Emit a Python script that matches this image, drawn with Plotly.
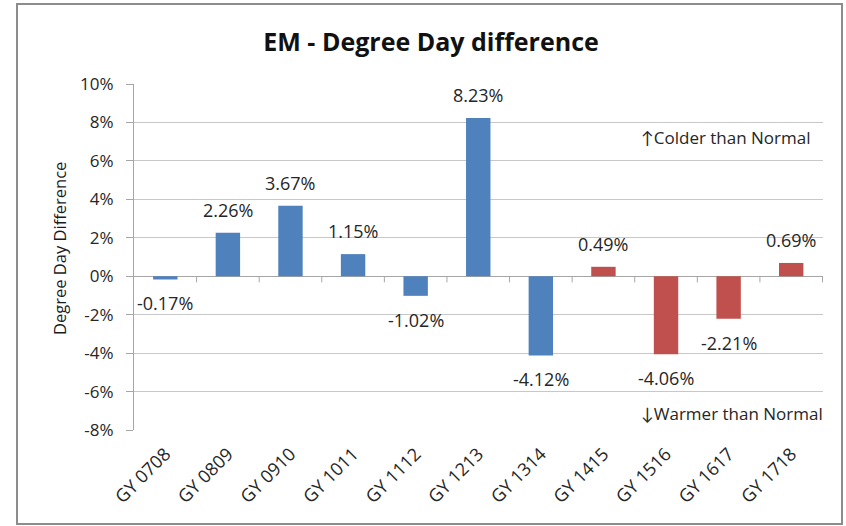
import plotly.graph_objects as go

# Chart data
categories = ["GY 0708", "GY 0809", "GY 0910", "GY 1011", "GY 1112", "GY 1213",
              "GY 1314", "GY 1415", "GY 1516", "GY 1617", "GY 1718"]
diff_values = [-0.0017, 0.0226, 0.0367, 0.0115, -0.0102, 0.0823,
               -0.0412, 0.0049, -0.0406, -0.0221, 0.0069]
bar_colors = ["#4F81BD"] * 7 + ["#C0504D"] * 4
y_ticks = [-0.08, -0.06, -0.04, -0.02, 0.0, 0.02, 0.04, 0.06, 0.08, 0.10]
y_tick_text = ["-8%", "-6%", "-4%", "-2%", "0%", "2%", "4%", "6%", "8%", "10%"]

FONT = "Open Sans, Lato, sans-serif"
TEXT = "#262626"
GRID = "#C8C8C8"

fig = go.Figure()
fig.add_trace(go.Bar(
    x=categories,
    y=diff_values,
    marker=dict(color=bar_colors, line=dict(width=0)),
    hoverinfo="x+y",
))

# Data labels: above positive bars, below negative ones (hyphen minus like Excel)
for cat, val in zip(categories, diff_values):
    fig.add_annotation(
        x=cat, y=val, text=f"{val * 100:.2f}%", showarrow=False,
        yanchor="bottom" if val >= 0 else "top",
        yshift=9 if val >= 0 else -10,
        font=dict(family=FONT, size=18, color=TEXT),
    )

# Small category boundary ticks hanging below the zero line
for i in range(len(categories)):
    fig.add_shape(type="line", xref="x", yref="y",
                  x0=i + 0.5, x1=i + 0.5, y0=0, y1=-0.0032,
                  line=dict(color="#A6A6A6", width=1))

fig.add_annotation(x=1.0, y=0.072, xref="paper", yref="y", xanchor="right",
                   text="↑Colder than Normal", showarrow=False, xshift=-10,
                   font=dict(family=FONT, size=17, color=TEXT))
fig.add_annotation(x=1.0, y=-0.0714, xref="paper", yref="y", xanchor="right",
                   text="↓Warmer than Normal", showarrow=False, xshift=2,
                   font=dict(family=FONT, size=17, color=TEXT))

# Y axis title placed by hand
fig.add_annotation(x=-0.109, y=0.526, xref="paper", yref="paper",
                   xanchor="center", yanchor="middle",
                   text="Degree Day Difference", textangle=-90, showarrow=False,
                   font=dict(family=FONT, size=16.5, color="#1A1A1A"))

# Outer chart border
fig.add_shape(type="rect", xref="paper", yref="paper",
              x0=-0.1698, x1=1.0276, y0=-0.2717, y1=1.231,
              line=dict(color="#8C8C8C", width=2))

fig.update_layout(
    width=846, height=526,
    margin=dict(l=134, r=23, t=84, b=96),
    paper_bgcolor="white", plot_bgcolor="white",
    bargap=0.61,
    showlegend=False,
    font=dict(family=FONT, color=TEXT),
    title=dict(text="<b>EM - Degree Day difference</b>", x=0.5095, xanchor="center",
               y=0.92, yanchor="middle",
               font=dict(family=FONT, size=25, color="#111111")),
)
fig.update_xaxes(
    tickangle=-45, showgrid=False, showline=False, ticks="",
    ticklabelstandoff=9,
    tickfont=dict(family=FONT, size=18, color=TEXT),
)
fig.update_yaxes(
    range=[-0.08, 0.10], tickmode="array", tickvals=y_ticks, ticktext=y_tick_text,
    showgrid=True, gridcolor=GRID, gridwidth=1,
    zeroline=True, zerolinecolor="#A6A6A6", zerolinewidth=1,
    showline=True, linecolor="#A6A6A6", linewidth=1,
    ticks="outside", ticklen=7, tickcolor="#A6A6A6",
    ticklabelstandoff=9,
    tickfont=dict(family=FONT, size=17, color=TEXT),
)

fig.write_html("out.html", config={"displayModeBar": False},
               post_script="document.body.style.margin='0';")
